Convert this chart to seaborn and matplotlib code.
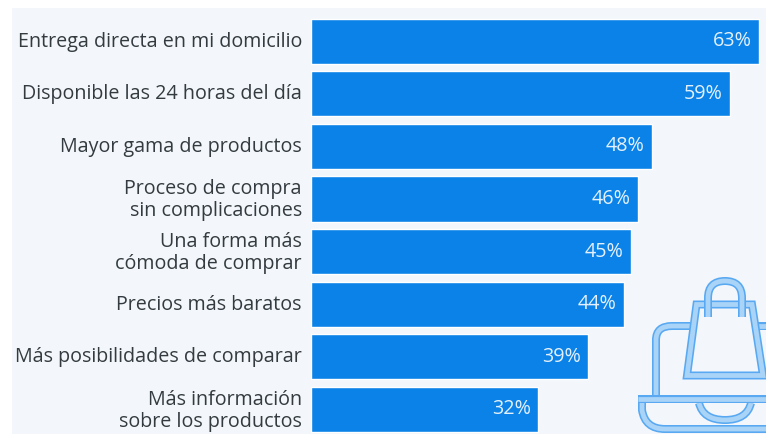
import matplotlib
matplotlib.use("Agg")
import numpy as np
import pandas as pd
import seaborn as sns
import matplotlib.pyplot as plt
from matplotlib.patches import Rectangle, PathPatch
from matplotlib.path import Path
from matplotlib.transforms import ScaledTranslation

categories = ["Entrega directa en mi domicilio", "Disponible las 24 horas del día",
              "Mayor gama de productos", "Proceso de compra\nsin complicaciones",
              "Una forma más\ncómoda de comprar", "Precios más baratos",
              "Más posibilidades de comparar", "Más información\nsobre los productos"]
values = [63, 59, 48, 46, 45, 44, 39, 32]

W, H = 766, 434
BG = "#f3f7fb"
BAR = "#0a82e8"
TXT = "#333b40"

sns.set_theme(style="white")
plt.rcParams["font.family"] = ["Open Sans", "DejaVu Sans"]

fig = plt.figure(figsize=(W / 100, H / 100), dpi=100, facecolor="white")
fig.add_artist(Rectangle((12 / W, 0), (W - 12) / W, (H - 8) / H, transform=fig.transFigure,
                         facecolor=BG, edgecolor="none", zorder=-5))

ax = fig.add_axes([310.5 / W, 0, (W - 310.5) / W, (H - 8) / H])
ax.patch.set_alpha(0)
df = pd.DataFrame({"cat": categories, "val": values})
sns.barplot(data=df, y="cat", x="val", color=BAR, saturation=1, width=0.86, ax=ax)
ax.set_xlim(0, (W - 310.5) / 7.115)
ax.set_ylim((434 - 41.2) / 52.6, (8 - 41.2) / 52.6)
ax.set_xlabel("")
ax.set_ylabel("")
ax.xaxis.set_visible(False)
sns.despine(ax=ax, left=True, bottom=True)
ax.tick_params(axis="y", length=0, pad=6.2, labelsize=14.2, labelcolor=TXT)
shift = ScaledTranslation(0, 1.5 / 72, fig.dpi_scale_trans)
for lab in ax.get_yticklabels():
    lab.set_linespacing(1.12)
    lab.set_ha("right")
    lab.set_multialignment("right")
    lab.set_transform(lab.get_transform() + shift)
labels = ax.bar_label(ax.containers[0], fmt="%d%%", padding=-5.3, color="#e4f0fb", fontsize=14.2)
for t in labels:
    t.set_ha("right")

# decorative icon, in pixel coordinates
ic = fig.add_axes([0, 0, 1, 1], zorder=3)
ic.set_xlim(0, W)
ic.set_ylim(H, 0)
ic.axis("off")
ic.patch.set_alpha(0)

def stroke(xs, ys, closed=False, fill=None, codes=None):
    verts = list(zip(xs, ys))
    if codes is None:
        codes = [Path.MOVETO] + [Path.LINETO] * (len(verts) - 1)
    if closed:
        verts.append(verts[0])
        codes = list(codes) + [Path.CLOSEPOLY]
    p = Path(verts, codes)
    if fill:
        ic.add_patch(PathPatch(p, facecolor=fill, edgecolor="none"))
    ic.add_patch(PathPatch(p, facecolor="none", edgecolor="#58a9f2", lw=8 * 0.72, joinstyle="miter", capstyle="butt"))
    ic.add_patch(PathPatch(p, facecolor="none", edgecolor="#a9d3f7", lw=4.8 * 0.72, joinstyle="miter", capstyle="butt"))

C, L, M = Path.CURVE3, Path.LINETO, Path.MOVETO
# laptop screen
stroke([656, 656, 656, 672, 690], [395, 340, 326, 326, 326], codes=[M, L, C, C, L])
stroke([750, 775], [326, 326])
# notch
stroke([699, 703, 725, 747, 751], [403, 420, 420, 420, 403], codes=[M, C, C, C, C])
# laptop base
stroke([642, 642, 645, 665, 775], [399, 410, 429, 429, 429], codes=[M, L, C, C, L])
stroke([638, 775], [399, 399])
# bag body
stroke([696.5, 752, 763, 687], [304.5, 304.5, 375.5, 375.5], closed=True, fill=BG)
# handle
stroke([708, 708, 708, 725, 742, 742, 742], [317, 298, 281, 281, 281, 298, 317],
       codes=[M, L, C, C, C, C, L])

fig.savefig("out.png", dpi=100, facecolor="white")
